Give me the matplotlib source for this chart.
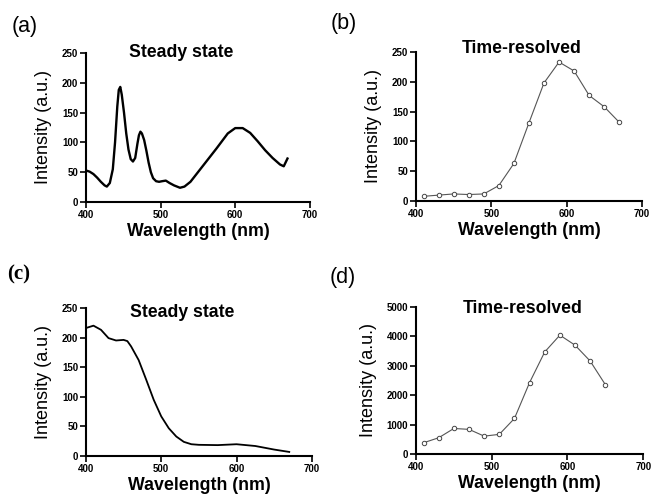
import matplotlib
matplotlib.use("Agg")
import matplotlib.pyplot as plt

plt.rcParams["font.family"] = ["Liberation Sans", "DejaVu Sans"]

# (a) steady state emission
wl_a = [400, 405, 410, 415, 420, 425, 428, 432, 436, 439, 442, 444, 446, 448, 451,
        454, 457, 460, 463, 466, 469, 471, 473, 475, 478, 481, 484, 487, 490, 494,
        498, 502, 507, 512, 518, 526, 532, 540, 550, 560, 575, 590, 600, 610, 620,
        630, 640, 650, 660, 665, 670]
int_a = [53, 51, 47, 41, 34, 28, 26, 32, 55, 100, 160, 188, 193, 180, 150,
         115, 88, 72, 68, 74, 98, 112, 118, 115, 104, 86, 66, 50, 40, 35,
         34, 35, 36, 32, 28, 24, 26, 34, 50, 66, 90, 115, 124, 124, 116,
         102, 87, 74, 63, 60, 73]

# (b) time-resolved
wl_b = [410, 430, 450, 470, 490, 510, 530, 550, 570, 590, 610, 630, 650, 670]
int_b = [8, 10, 12, 11, 12, 26, 63, 131, 198, 233, 218, 177, 158, 132]

# (c) steady state
wl_c = [400, 410, 420, 430, 440, 450, 455, 460, 470, 480, 490, 500, 510, 520,
        530, 540, 550, 575, 600, 625, 650, 670]
int_c = [216, 220, 213, 199, 195, 196, 194, 185, 162, 129, 95, 67, 47, 33,
         24, 20, 19, 18.5, 20, 17, 11, 7]

# (d) time-resolved
wl_d = [410, 430, 450, 470, 490, 510, 530, 550, 570, 590, 610, 630, 650]
int_d = [385, 555, 870, 840, 610, 670, 1210, 2430, 3470, 4040, 3700, 3160, 2360]

x_ticks = [400, 500, 600, 700]

fig = plt.figure(figsize=(6.51, 4.99), dpi=100)

panels = [
    # rect, label, label pos, title, title baseline y, data, yticks, time-resolved?
    ([0.132, 0.595, 0.344, 0.299], "(a)", (0.018, 0.946), "Steady state", 0.973,
     wl_a, int_a, [0, 50, 100, 150, 200, 250], False),
    ([0.639, 0.597, 0.347, 0.299], "(b)", (0.508, 0.952), "Time-resolved", 0.993,
     wl_b, int_b, [0, 50, 100, 150, 200, 250], True),
    ([0.132, 0.086, 0.347, 0.297], "(c)", (0.011, 0.449), "Steady state", 0.94,
     wl_c, int_c, [0, 50, 100, 150, 200, 250], False),
    ([0.639, 0.090, 0.349, 0.295], "(d)", (0.506, 0.443), "Time-resolved", 0.96,
     wl_d, int_d, [0, 1000, 2000, 3000, 4000, 5000], True),
]

for rect, lab, lpos, title, ty, xs, ys, yt, tr in panels:
    ax = fig.add_axes(rect)
    if tr:
        ax.plot(xs, ys, color="#555555", lw=0.8, marker="o", ms=3.2,
                mfc="white", mec="#444444", mew=0.7)
    else:
        ax.plot(xs, ys, color="black", lw=1.7 if lab == "(a)" else 1.3)
    ax.set_xlim(400, 700)
    ax.set_ylim(yt[0], yt[-1])
    ax.set_xticks(x_ticks)
    ax.set_yticks(yt)
    for s in ("top", "right"):
        ax.spines[s].set_visible(False)
    for s in ("left", "bottom"):
        ax.spines[s].set_linewidth(1.5)
    ax.tick_params(direction="out", length=4, width=1.2, pad=1.5,
                   labelsize=7)
    for t in ax.get_xticklabels() + ax.get_yticklabels():
        t.set_fontweight("bold")
    ax.set_xlabel("Wavelength (nm)", fontsize=12.8, fontweight="bold", labelpad=2)
    ax.set_ylabel("Intensity (a.u.)", fontsize=13, labelpad=7)
    title_x = 528 if title == "Steady state" else 541
    ax.text(title_x, ty, title, transform=ax.get_xaxis_transform(),
            ha="center", va="baseline", fontsize=12.7, fontweight="bold")
    if lab == "(c)":
        fig.text(lpos[0], lpos[1], lab, ha="left", va="center", fontsize=15,
                 family=["Liberation Serif", "DejaVu Serif"], fontweight="bold")
    else:
        fig.text(lpos[0], lpos[1], lab, ha="left", va="center", fontsize=15.5)

fig.savefig("out.png", dpi=100)
